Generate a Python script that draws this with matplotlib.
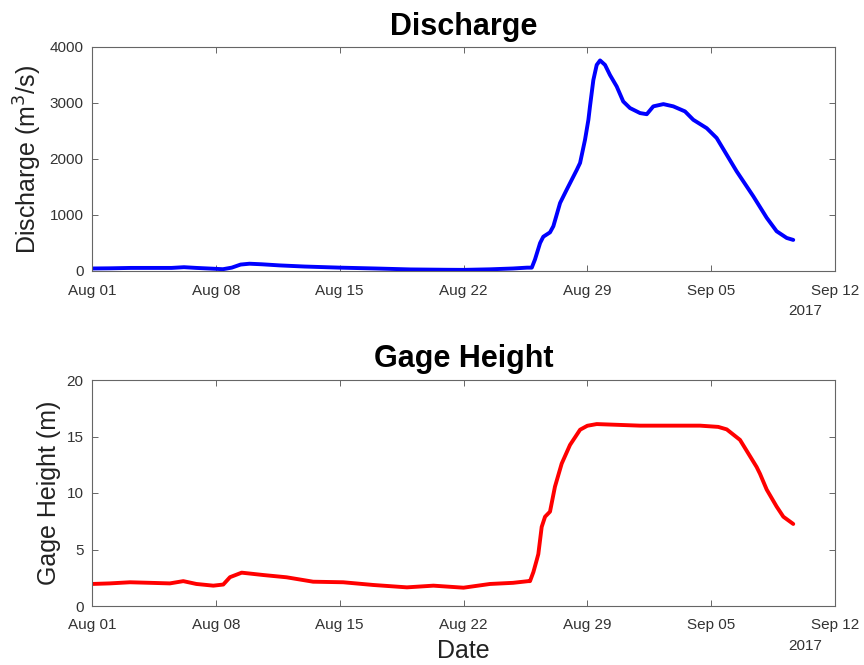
import matplotlib
matplotlib.use("Agg")
import matplotlib.pyplot as plt
import matplotlib.dates as mdates
import numpy as np
import datetime as dt

plt.rcParams['font.family'] = ['Liberation Sans', 'DejaVu Sans']

# ---- data (days since 2017-08-01 00:00) ----
q_days = [0.0, 1.0, 2.2, 3.5, 4.5, 5.2, 5.9, 6.9, 7.4, 7.9, 8.4, 8.9, 9.6, 10.6, 12.0,
          14.0, 16.0, 18.0, 20.0, 21.0, 22.5, 23.8, 24.6, 24.86, 25.04, 25.33, 25.51,
          25.89, 26.08, 26.46, 26.83, 27.40, 27.59, 27.87, 28.06, 28.15, 28.34, 28.53,
          28.72, 29.0, 29.28, 29.66, 30.03, 30.41, 30.98, 31.36, 31.73, 32.3, 32.86,
          33.52, 33.99, 34.75, 35.31, 35.88, 36.44, 37.38, 38.14, 38.7, 39.27, 39.64]
q_vals = [45, 48, 55, 55, 55, 68, 55, 40, 32, 60, 115, 130, 120, 100, 80,
          60, 45, 28, 22, 20, 30, 45, 60, 60, 205, 500, 612,
          690, 800, 1215, 1450, 1804, 1930, 2345, 2700, 2940, 3410, 3680,
          3760, 3680, 3500, 3295, 3027, 2910, 2820, 2800, 2940, 2980, 2940,
          2850, 2700, 2550, 2375, 2075, 1780, 1335, 950, 710, 590, 555]

h_days = [0.0, 1.0, 2.15, 3.3, 4.4, 5.16, 5.9, 6.86, 7.42, 7.8, 8.46, 9.69, 11.0,
          12.5, 14.2, 15.9, 17.8, 19.3, 21.0, 22.5, 23.8, 24.66, 24.76, 24.95,
          25.14, 25.23, 25.42, 25.61, 25.89, 26.17, 26.55, 27.02, 27.59, 28.0,
          28.53, 30.98, 34.37, 35.4, 35.88, 36.63, 37.57, 37.76, 38.14, 38.7,
          39.08, 39.64]
h_vals = [1.95, 2.0, 2.1, 2.05, 2.0, 2.2, 1.95, 1.8, 1.9, 2.55, 2.95, 2.74, 2.54,
          2.15, 2.1, 1.86, 1.65, 1.8, 1.62, 1.95, 2.05, 2.2, 2.2, 3.0,
          4.07, 4.6, 7.0, 7.9, 8.35, 10.56, 12.6, 14.25, 15.6, 15.95,
          16.1, 15.96, 15.96, 15.85, 15.63, 14.7, 12.3, 11.7, 10.3, 8.8,
          7.9, 7.26]

x_ticks = ['2017-08-01', '2017-08-08', '2017-08-15', '2017-08-22',
           '2017-08-29', '2017-09-05', '2017-09-12']
q_yticks = [0, 1000, 2000, 3000, 4000]
h_yticks = [0, 5, 10, 15, 20]

start = dt.datetime(2017, 8, 1)
q_t = [start + dt.timedelta(days=d) for d in q_days]
h_t = [start + dt.timedelta(days=d) for d in h_days]
xt = [dt.datetime.strptime(s, '%Y-%m-%d') for s in x_ticks]

fig = plt.figure(figsize=(8.64, 6.65), dpi=100)
ax1 = fig.add_axes([92/864, 1-271/665, (835-92)/864, 224/665])
ax2 = fig.add_axes([92/864, 1-606/665, (835-92)/864, 226/665])

ax1.plot(q_t, q_vals, color=(0, 0, 1), lw=2.8, solid_capstyle='round')
ax2.plot(h_t, h_vals, color=(1, 0, 0), lw=2.8, solid_capstyle='round')

tick_color = '#333333'
for ax, yt, ylim, ylab, title in [
        (ax1, q_yticks, (0, 4000), 'Discharge (m$^{3}$/s)', 'Discharge'),
        (ax2, h_yticks, (0, 20), 'Gage Height (m)', 'Gage Height')]:
    ax.set_xlim(xt[0], xt[-1])
    ax.set_ylim(*ylim)
    ax.set_xticks(xt)
    ax.xaxis.set_major_formatter(mdates.DateFormatter('%b %d'))
    ax.set_yticks(yt)
    ax.tick_params(direction='in', length=4, width=0.7, colors='#666666',
                   labelcolor=tick_color, labelsize=11, top=True, right=True)
    ax.tick_params(axis='x', pad=9)
    ax.tick_params(axis='y', pad=6)
    for s in ax.spines.values():
        s.set_color('#666666')
        s.set_linewidth(0.8)
    ax.set_ylabel(ylab, fontsize=18, color='#222222', labelpad=4)
    ax.set_title(title, fontsize=22, fontweight='bold', pad=9)
    ax.annotate('2017', xy=(0.983, 0), xycoords='axes fraction',
                xytext=(0, -28.5), textcoords='offset points',
                ha='right', va='center', fontsize=11, color=tick_color)

ax2.set_xlabel('Date', fontsize=18, color='#222222', labelpad=5)

fig.savefig('out.png', dpi=100, facecolor='white')
